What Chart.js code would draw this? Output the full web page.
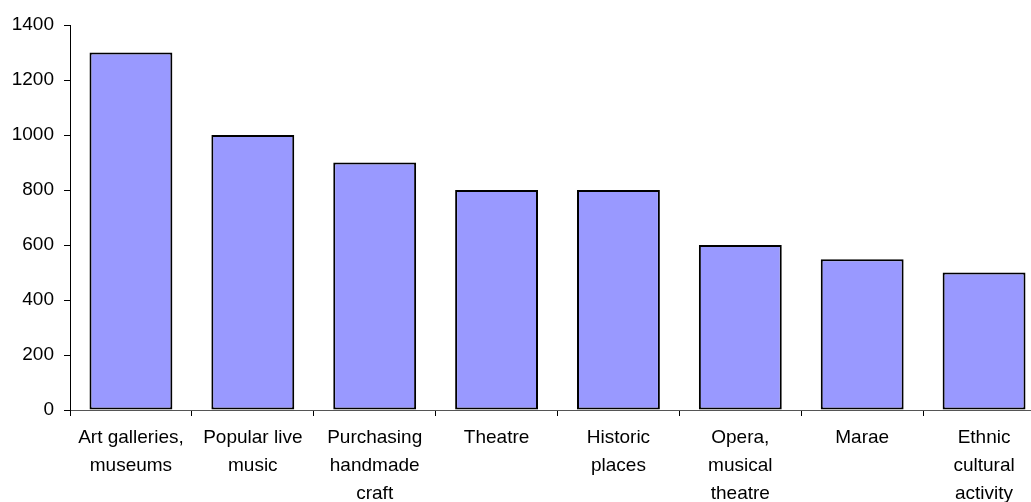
<!DOCTYPE html>
<html>
<head>
<meta charset="utf-8">
<script src="https://cdn.jsdelivr.net/npm/chart.js@4"></script>
<style>
  html, body { margin: 0; background: #fff; overflow: hidden; }
  #wrap { width: 1045px; height: 502px; }
</style>
</head>
<body>
<div id="wrap"><canvas id="myChart"></canvas></div>
<script>
var categories = [
  ['Art galleries,', 'museums'],
  ['Popular live', 'music'],
  ['Purchasing', 'handmade', 'craft'],
  ['Theatre'],
  ['Historic', 'places'],
  ['Opera,', 'musical', 'theatre'],
  ['Marae'],
  ['Ethnic', 'cultural', 'activity']
];
var values = [1300, 1000, 900, 800, 800, 600, 548, 500];
var yTicks = [0, 200, 400, 600, 800, 1000, 1200, 1400];

var ctx = document.getElementById('myChart');
new Chart(ctx, {
  type: 'bar',
  data: {
    labels: categories,
    datasets: [{
      data: values,
      backgroundColor: '#9999FF',
      borderColor: '#000',
      borderWidth: 2,
      borderSkipped: false,
      barPercentage: 0.68,
      categoryPercentage: 1
    }]
  },
  options: {
    responsive: true,
    maintainAspectRatio: false,
    animation: false,
    layout: { padding: { top: 25, right: 0, left: 0, bottom: 0 } },
    plugins: { legend: { display: false }, tooltip: { enabled: false } },
    scales: {
      x: {
        grid: { offset: true, drawOnChartArea: false, tickLength: 6, color: '#000' },
        border: { color: '#555', width: 1 },
        ticks: {
          color: '#000', padding: 8, maxRotation: 0, autoSkip: false,
          font: { family: 'Liberation Sans, Arial', size: 19, lineHeight: 1.47 }
        },
        afterFit: function (axis) { axis.height = 92; }
      },
      y: {
        min: 0,
        max: 1400,
        afterBuildTicks: function (axis) {
          axis.ticks = yTicks.map(function (v) { return { value: v }; });
        },
        grid: { drawOnChartArea: false, tickLength: 6, color: '#000' },
        border: { color: '#000', width: 1 },
        ticks: {
          color: '#000', padding: 10,
          font: { family: 'Liberation Sans, Arial', size: 19 },
          callback: function (v) { return String(v); }
        },
        afterFit: function (axis) { axis.width = 70; }
      }
    }
  }
});
</script>
</body>
</html>
